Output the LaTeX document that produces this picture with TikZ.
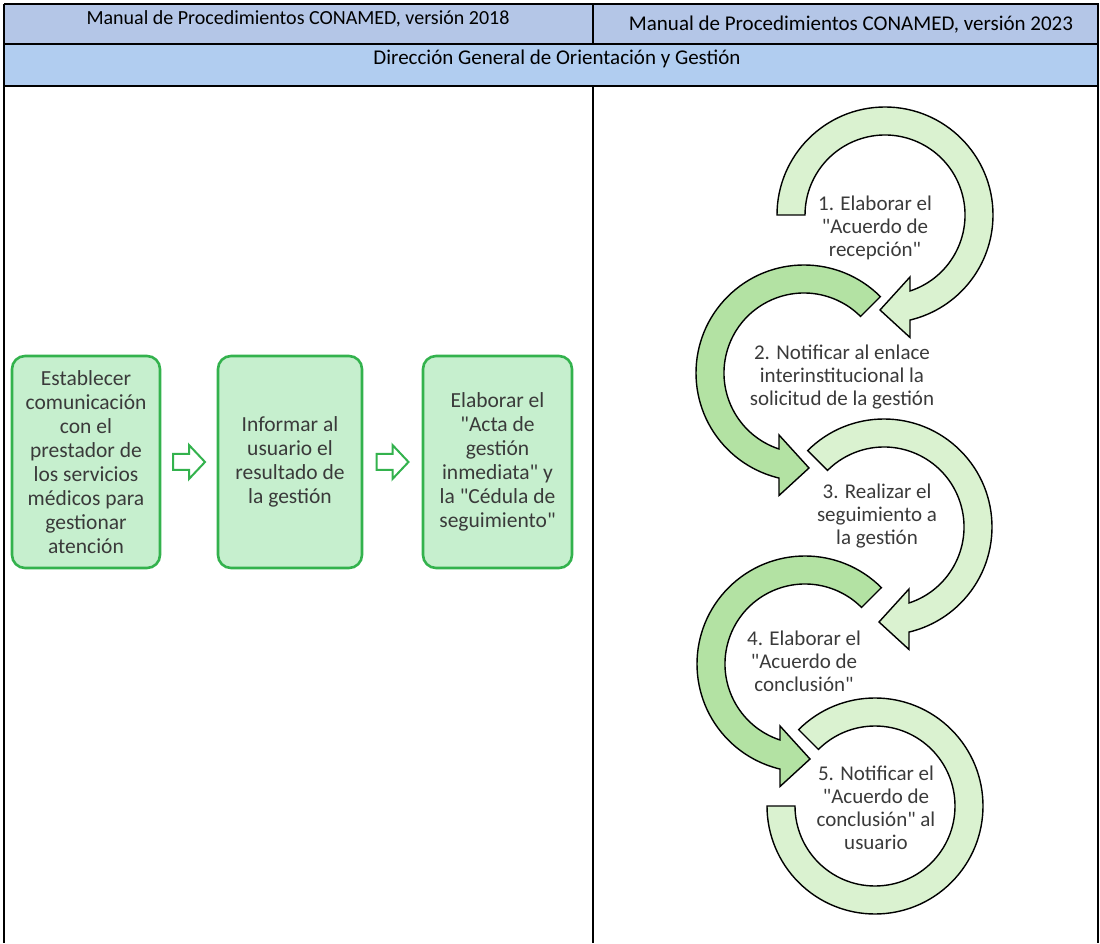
\documentclass[tikz,border=0pt]{standalone}
\usepackage{fontspec}
\setmainfont{Carlito}
\newfontfamily\qfont{Carlito}
\newcommand\sq{{\qfont"}}
\definecolor{hdrA}{HTML}{B4C6E7}
\definecolor{hdrB}{HTML}{B1CDF0}
\definecolor{boxfill}{HTML}{C6EFCE}
\definecolor{boxline}{HTML}{33B24D}
\definecolor{ringlight}{HTML}{DAF2D0}
\definecolor{ringdark}{HTML}{B3E2A3}
\definecolor{txt}{HTML}{3A3A3A}
\tikzset{
  ring/.style={draw=black, line width=1.4, line join=miter},
  pics/cwarrow/.style={code={
    \path[ring,pic actions] (#1:108) arc[start angle=#1, end angle=-76.6, radius=108]
      -- (25,-122.5) -- (-5,-95) -- (25,-62) -- (25,-76)
      arc[start angle=-71.8, end angle=#1, radius=80] -- cycle;
  }},
  pics/cwopen/.style={code={
    \path[ring,pic actions] (#1:108) arc[start angle=#1, end angle=-180, radius=108]
      -- (-180:80) arc[start angle=-180, end angle=#1, radius=80] -- cycle;
  }},
}
\begin{document}
\begin{tikzpicture}[x=1pt,y=1pt,
  hdr/.style={inner sep=0, text=black},
  stepbox/.style={draw=boxline, line width=2.6, fill=boxfill, rounded corners=13,
    minimum height=212, align=center, inner sep=0, text=txt,
    font=\fontsize{21.5}{24}\selectfont},
  flowarrow/.style={draw=boxline, line width=2, fill=white, line join=miter},
  ringtext/.style={align=center, text=txt, font=\fontsize{21}{23}\selectfont, inner sep=0},
  grid/.style={draw=black, line width=1.5}
]
\useasboundingbox (0,0) rectangle (1100,943);
% header fills
\fill[hdrA] (4,899) rectangle (1098,939);
\fill[hdrB] (4,857) rectangle (1098,899);
% table lines
\draw[grid] (4,939) -- (1098,939) -- (1098,0);
\draw[grid] (4,899) -- (1098,899);
\draw[draw=black, line width=2.4] (4,857) -- (1098,857);
\draw[draw=black, line width=2.4] (4,939) -- (4,0);
\draw[grid] (593,939) -- (593,899);
\draw[grid] (593,857) -- (593,0);
% header texts
\node[hdr, font=\fontsize{20}{24}\selectfont] (h1) at (298,924) {Manual de Procedimientos CONAMED, versión 2018};
\node[hdr, font=\fontsize{21}{24}\selectfont] (h2) at (851,918) {Manual de Procedimientos CONAMED, versión 2023};
\node[hdr, font=\fontsize{21}{24}\selectfont] (h3) at (557,884) {Dirección General de Orientación y Gestión};
% left column boxes
\node[stepbox, minimum width=148] (b1) at (86,481) {Establecer\\comunicación\\con el\\prestador de\\los servicios\\médicos para\\gestionar\\atención};
\node[stepbox, minimum width=144] (b2) at (290,481) {Informar al\\usuario el\\resultado de\\la gestión};
\node[stepbox, minimum width=149] (b3) at (497.5,481) {Elaborar el\\\sq Acta de\\gestión\\inmediata\sq{} y\\la \sq Cédula de\\seguimiento\sq};
\path (b1.east) -- (b2.west) coordinate[pos=0.5] (a1);
\path (b2.east) -- (b3.west) coordinate[pos=0.5] (a2);
\foreach \a in {a1,a2}{
  \begin{scope}[shift={(\a)}]
    \draw[flowarrow] (-16,8) -- (0,8) -- (0,17) -- (16,0) -- (0,-17) -- (0,-8) -- (-16,-8) -- cycle;
  \end{scope}
}
% right column circular arrows
\pic[fill=ringlight] at (885,728) {cwarrow=180};
\pic[fill=ringdark, xscale=-1] at (804,570) {cwarrow=135};
\pic[fill=ringlight] at (884,416) {cwarrow=135};
\pic[fill=ringdark, xscale=-1] at (805,279) {cwarrow=135};
\pic[fill=ringlight] at (875,137) {cwopen=135};
% ring texts
\node[ringtext] (t1) at (875,715) {1. Elaborar el\\\sq Acuerdo de\\recepción\sq};
\node[ringtext] (t2) at (842,566) {2. Notificar al enlace\\interinstitucional la\\solicitud de la gestión};
\node[ringtext] (t3) at (877,427) {3. Realizar el\\seguimiento a\\la gestión};
\node[ringtext] (t4) at (804,282) {4. Elaborar el\\\sq Acuerdo de\\conclusión\sq};
\node[ringtext] (t5) at (876,135) {5. Notificar el\\\sq Acuerdo de\\conclusión\sq{} al\\usuario};
\end{tikzpicture}
\end{document}
